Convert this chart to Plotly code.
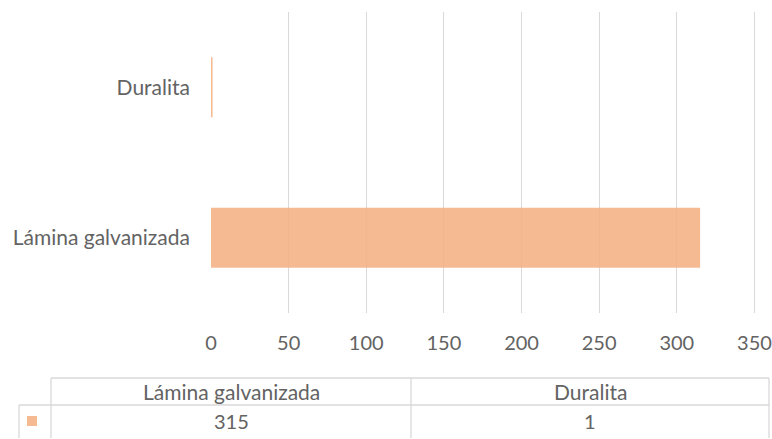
import plotly.graph_objects as go

categories = ["Lámina galvanizada", "Duralita"]
values = [315, 1]
x_ticks = [0, 50, 100, 150, 200, 250, 300, 350]

W, H = 772, 439
ML, MR, MT, MB = 211, 16, 12, 126
FONT = "Lato"
TXT = "#636363"
GRID = "#D9D9D9"
BAR = "rgba(244,177,131,0.88)"
FS_TXT = 21
FS_NUM = 20

fig = go.Figure()
fig.add_trace(go.Bar(y=categories, x=values, orientation="h",
                     marker=dict(color=BAR, line=dict(width=0)), width=0.4,
                     showlegend=False, hoverinfo="x+y"))

fig.update_layout(
    width=W, height=H, autosize=False,
    margin=dict(l=ML, r=MR, t=MT, b=MB, autoexpand=False),
    paper_bgcolor="white", plot_bgcolor="white",
    font=dict(family=FONT, size=FS_TXT, color=TXT),
    xaxis=dict(range=[0, 351], tickvals=x_ticks, showgrid=True, gridcolor=GRID,
               gridwidth=1, zeroline=False, showline=False, ticks="",
               automargin=False, ticklabelstandoff=16,
               tickfont=dict(size=FS_NUM, color=TXT)),
    yaxis=dict(showgrid=False, zeroline=False, showline=False, ticks="",
               automargin=False, ticklabelstandoff=20,
               tickfont=dict(size=FS_TXT, color=TXT),
               range=[-0.5, 1.5]),
)

def px(x):
    return (x - ML) / (W - ML - MR)

def py(y):
    return (H - MB - y) / (H - MT - MB)

top, mid, bot = 378, 405, 438
left_hdr, left_row, col_mid, right = 51, 19, 411, 769
lines = [
    (left_hdr, top, right, top),
    (left_row, mid, right, mid),
    (left_hdr, top, left_hdr, bot),
    (col_mid, top, col_mid, bot),
    (right, top, right, bot),
    (left_row, mid, left_row, bot),
]
for x0, y0, x1, y1 in lines:
    fig.add_shape(type="line", xref="paper", yref="paper",
                  x0=px(x0), y0=py(y0), x1=px(x1), y1=py(y1),
                  line=dict(color=GRID, width=1.3))

fig.add_shape(type="rect", xref="paper", yref="paper",
              x0=px(27), x1=px(37), y0=py(416), y1=py(426),
              line=dict(width=0), fillcolor=BAR)

col_centers = [(left_hdr + col_mid) / 2, (col_mid + right) / 2]
for i, (c, v) in enumerate(zip(categories, values)):
    fig.add_annotation(xref="paper", yref="paper", x=px(col_centers[i]), y=py(391),
                       text=c, showarrow=False, font=dict(size=FS_TXT, color=TXT),
                       xanchor="center", yanchor="middle")
    fig.add_annotation(xref="paper", yref="paper", x=px(col_centers[i]), y=py(421),
                       text=str(v), showarrow=False, font=dict(size=FS_NUM, color=TXT),
                       xanchor="center", yanchor="middle")

fig.write_html("out.html", config={"displayModeBar": False},
               post_script="document.body.style.margin='0';document.body.style.overflow='hidden';")
